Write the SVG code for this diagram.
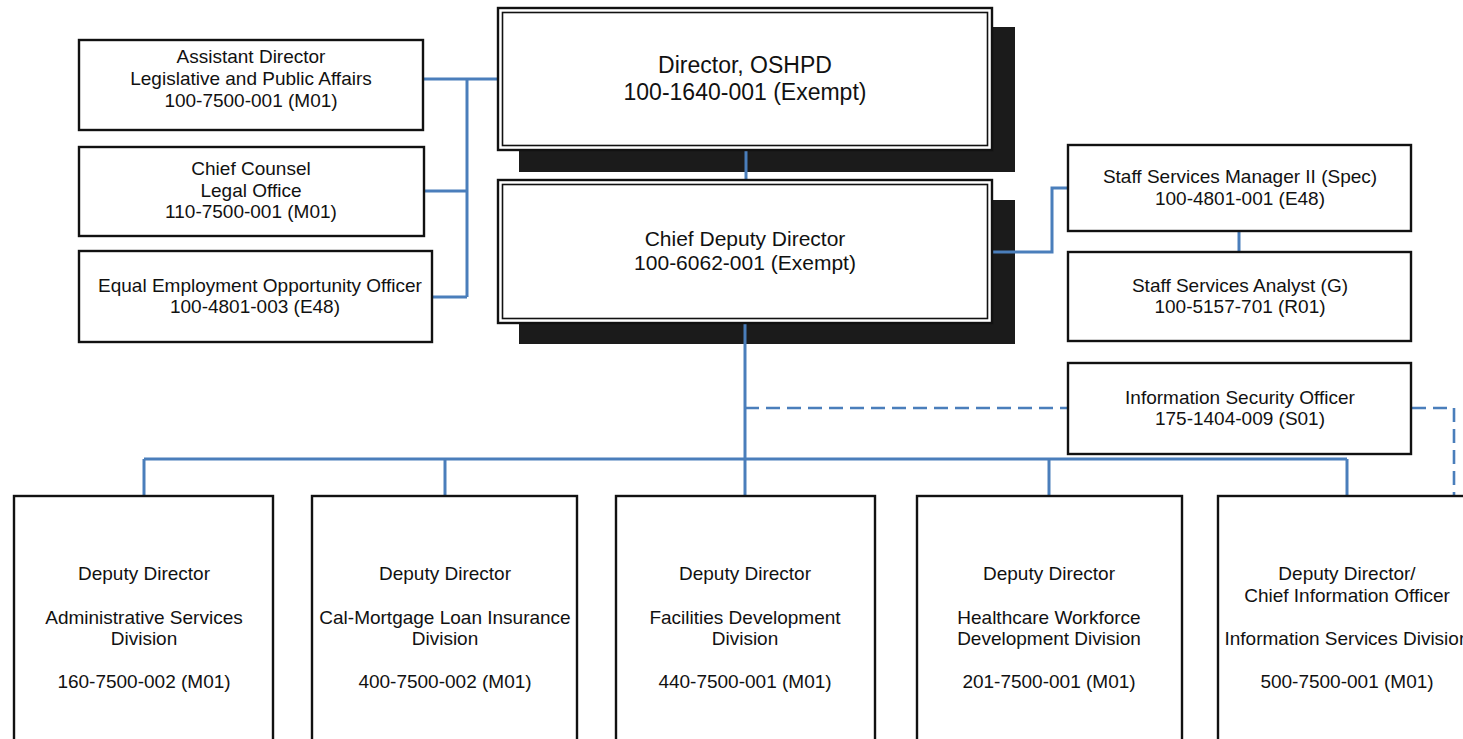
<svg xmlns="http://www.w3.org/2000/svg" width="1463" height="739" viewBox="0 0 1463 739">
<style>
.box{fill:#fff;stroke:#111;stroke-width:2.4}
.inner{fill:none;stroke:#111;stroke-width:1.6}
.shadow{fill:#1b1b1b}
.t{font-family:"Liberation Sans",Arial,sans-serif;font-size:19px;fill:#111;text-anchor:middle}
.big{font-size:23px}
.mid{font-size:21px}
.c{fill:none;stroke:#4a7ebb;stroke-width:3}
.d{fill:none;stroke:#4a7ebb;stroke-width:2.6;stroke-dasharray:14 7}
</style>
<rect width="1463" height="739" fill="#fff"/>
<g id="shadows">
<rect class="shadow" x="519" y="27" width="496" height="145"/>
<rect class="shadow" x="519" y="200" width="496" height="144"/>
</g>
<g id="connectors">
<path class="c" d="M746 150V180"/>
<path class="c" d="M423 79H497"/>
<path class="c" d="M467 79V297"/>
<path class="c" d="M424 191H467"/>
<path class="c" d="M432 297H467"/>
<path class="c" d="M992 252H1052V188H1068"/>
<path class="c" d="M1239 231V252"/>
<path class="c" d="M745 323V496"/>
<path class="c" d="M144 459H1347"/>
<path class="c" d="M144 459V496"/>
<path class="c" d="M445 459V496"/>
<path class="c" d="M1049 459V496"/>
<path class="c" d="M1347 459V496"/>
<path class="d" d="M745 408H1068"/>
<path class="d" d="M1412 408H1454V496"/>
</g>
<g id="director">
<rect class="box" x="498" y="8" width="494" height="142"/>
<rect class="inner" x="502.5" y="12.5" width="485" height="133"/>
<text class="t big" x="745" y="73">Director, OSHPD</text>
<text class="t big" x="745" y="99.5">100-1640-001 (Exempt)</text>
</g>
<g id="chief-deputy">
<rect class="box" x="498" y="180" width="494" height="143"/>
<rect class="inner" x="502.5" y="184.5" width="485" height="134"/>
<text class="t mid" x="745" y="246">Chief Deputy Director</text>
<text class="t mid" x="745" y="270">100-6062-001 (Exempt)</text>
</g>
<g id="assistant-director">
<rect class="box" x="79" y="40" width="344" height="90"/>
<text class="t" x="251" y="63">Assistant Director</text>
<text class="t" x="251" y="85">Legislative and Public Affairs</text>
<text class="t" x="251" y="106.5">100-7500-001 (M01)</text>
</g>
<g id="chief-counsel">
<rect class="box" x="79" y="147" width="345" height="89"/>
<text class="t" x="251" y="175">Chief Counsel</text>
<text class="t" x="251" y="196.5">Legal Office</text>
<text class="t" x="251" y="218">110-7500-001 (M01)</text>
</g>
<g id="eeo">
<rect class="box" x="79" y="251" width="353" height="91"/>
<text class="t" x="260" y="291.5">Equal Employment Opportunity Officer</text>
<text class="t" x="255" y="313">100-4801-003 (E48)</text>
</g>
<g id="ssm">
<rect class="box" x="1068" y="145" width="343" height="86"/>
<text class="t" x="1240" y="183">Staff Services Manager II (Spec)</text>
<text class="t" x="1240" y="205">100-4801-001 (E48)</text>
</g>
<g id="ssa">
<rect class="box" x="1068" y="252" width="343" height="89"/>
<text class="t" x="1240" y="291.5">Staff Services Analyst (G)</text>
<text class="t" x="1240" y="313">100-5157-701 (R01)</text>
</g>
<g id="iso">
<rect class="box" x="1068" y="363" width="343" height="91"/>
<text class="t" x="1240" y="404">Information Security Officer</text>
<text class="t" x="1240" y="425">175-1404-009 (S01)</text>
</g>
<g id="admin">
<rect class="box" x="14" y="496" width="259" height="260"/>
<text class="t" x="144" y="580">Deputy Director</text>
<text class="t" x="144" y="623.5">Administrative Services</text>
<text class="t" x="144" y="645">Division</text>
<text class="t" x="144" y="688">160-7500-002 (M01)</text>
</g>
<g id="calmortgage">
<rect class="box" x="312" y="496" width="265" height="260"/>
<text class="t" x="445" y="580">Deputy Director</text>
<text class="t" x="445" y="623.5">Cal-Mortgage Loan Insurance</text>
<text class="t" x="445" y="645">Division</text>
<text class="t" x="445" y="688">400-7500-002 (M01)</text>
</g>
<g id="facilities">
<rect class="box" x="616" y="496" width="259" height="260"/>
<text class="t" x="745" y="580">Deputy Director</text>
<text class="t" x="745" y="623.5">Facilities Development</text>
<text class="t" x="745" y="645">Division</text>
<text class="t" x="745" y="688">440-7500-001 (M01)</text>
</g>
<g id="healthcare">
<rect class="box" x="917" y="496" width="265" height="260"/>
<text class="t" x="1049" y="580">Deputy Director</text>
<text class="t" x="1049" y="623.5">Healthcare Workforce</text>
<text class="t" x="1049" y="645">Development Division</text>
<text class="t" x="1049" y="688">201-7500-001 (M01)</text>
</g>
<g id="information-services">
<rect class="box" x="1218" y="496" width="258" height="260"/>
<text class="t" x="1347" y="580">Deputy Director/</text>
<text class="t" x="1347" y="601.5">Chief Information Officer</text>
<text class="t" x="1347" y="645">Information Services Division</text>
<text class="t" x="1347" y="688">500-7500-001 (M01)</text>
</g>
</svg>
